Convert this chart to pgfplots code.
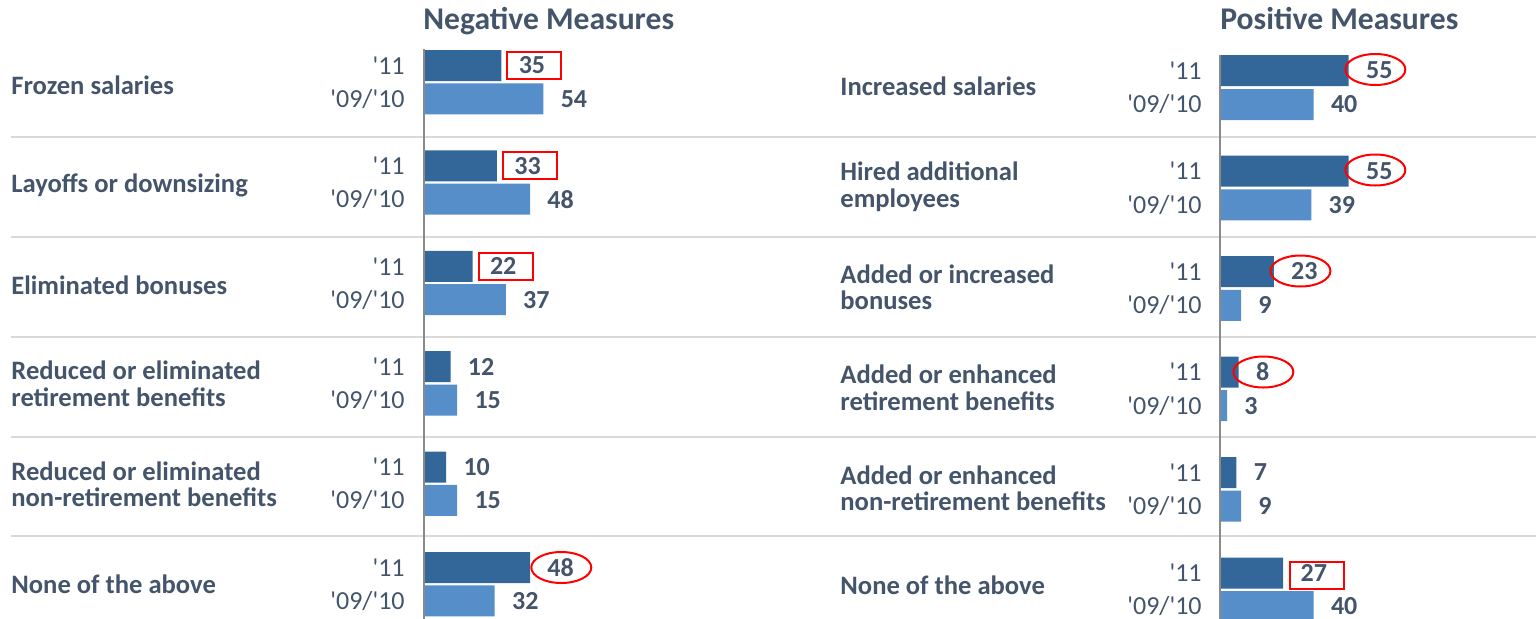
\documentclass[border=0pt]{standalone}
\usepackage{fontspec}
\setmainfont{Carlito}[Ligatures=TeXOff]
\usepackage{pgfplots}
\pgfplotsset{compat=1.18}
\usetikzlibrary{shapes.geometric}

\definecolor{dark}{HTML}{336699}
\definecolor{light}{HTML}{558EC9}
\definecolor{txt}{HTML}{44546A}
\definecolor{sep}{HTML}{D9D9D9}
\definecolor{ax}{HTML}{8A8A8A}

% 1 px of the reference = 0.5pt; y runs downward in pixels inside the axes
\pgfplotsset{
  panel/.style={
    scale only axis, height=309.5pt, anchor=north west,
    xmin=0, xmax=60, ymin=0, ymax=619, y dir=reverse,
    axis line style={draw=none}, xtick=\empty, major tick length=0pt,
    yticklabels={'11,'09/'10,'11,'09/'10,'11,'09/'10,'11,'09/'10,'11,'09/'10,'11,'09/'10},
    yticklabel style={anchor=east, inner sep=0pt, font=\fontsize{13}{15}\selectfont, text=txt},
    clip=false,
    xbar, bar width=15.5pt, bar shift=0pt,
    point meta=x, /pgf/number format/assume math mode=true,
    nodes near coords, nodes near coords align=horizontal,
    every node near coord/.append style={anchor=west, inner sep=0pt, xshift=8.5pt,
      font=\bfseries\fontsize{13}{15}\selectfont, text=txt},
  },
}
\tikzset{
  box/.style={draw=red, line width=1pt, minimum width=27pt, minimum height=13.5pt, inner sep=0pt},
  oval/.style={draw=red, ellipse, line width=1pt, minimum width=30pt, minimum height=15.5pt, inner sep=0pt},
}

\begin{document}
\begin{tikzpicture}
\useasboundingbox (0,0) rectangle (768pt,-309.5pt);

% row separators
\foreach \y in {68.6,118.5,168.4,218.35,268.25}
  \draw[sep, line width=1pt] (5.5pt,-\y pt) -- (768pt,-\y pt);

% titles
\node[anchor=base west, inner sep=0pt, text=txt, font=\bfseries\fontsize{15.8}{18}\selectfont] at (211.5pt,-14.8pt) {Negative Measures};
\node[anchor=base west, inner sep=0pt, text=txt, font=\bfseries\fontsize{15.8}{18}\selectfont] at (610pt,-14.8pt) {Positive Measures};

% category labels
\begin{scope}[every node/.style={anchor=west, align=left, inner sep=0pt, text=txt,
    font=\bfseries\fontsize{13.3}{13.3}\selectfont}]
\node at (5.5pt,-42.6pt) {Frozen salaries};
\node at (5.5pt,-92.8pt) {Layoffs or downsizing};
\node at (5.5pt,-142.6pt) {Eliminated bonuses};
\node at (5.5pt,-191.9pt) {Reduced or eliminated\\retirement benefits};
\node at (5.5pt,-242.1pt) {Reduced or eliminated\\non-retirement benefits};
\node at (5.5pt,-292.1pt) {None of the above};
\node at (420pt,-43.3pt) {Increased salaries};
\node at (420pt,-93.5pt) {Hired additional\\employees};
\node at (420pt,-143.7pt) {Added or increased\\bonuses};
\node at (420pt,-193.9pt) {Added or enhanced\\retirement benefits};
\node at (420pt,-244.1pt) {Added or enhanced\\non-retirement benefits};
\node at (420pt,-292.5pt) {None of the above};
\end{scope}

% Negative measures
\begin{axis}[panel, at={(212pt,0pt)}, width=66.3pt,
  ytick={65.5,98.8,165.9,199.2,266.3,299.6,366.7,400.0,467.1,500.4,567.5,600.8},
  yticklabel style={xshift=-9.5pt}]
\addplot[fill=dark, draw=none] coordinates {(35,65.5) (33,165.9) (22,266.3) (12,366.7) (10,467.1) (48,567.5)};
\addplot[fill=light, draw=none] coordinates {(54,98.8) (48,199.2) (37,299.6) (15,400.0) (15,500.4) (32,600.8)};
\draw[ax, line width=1pt] (axis cs:0,49) -- (axis cs:0,619);
\node[box] at ([xshift=16.3pt]axis cs:35,65.5) {};
\node[box] at ([xshift=16.3pt]axis cs:33,165.9) {};
\node[box] at ([xshift=16.8pt]axis cs:22,266.3) {};
\node[oval] at ([xshift=15.6pt]axis cs:48,567.5) {};
\end{axis}

% Positive measures
\begin{axis}[panel, at={(610pt,0pt)}, width=70.2pt,
  ytick={70.5,104.5,171.0,204.9,271.5,305.3,372.0,405.7,472.5,506.1,573.0,606.5},
  yticklabel style={xshift=-9pt}]
\addplot[fill=dark, draw=none] coordinates {(55,70.5) (55,171.0) (23,271.5) (8,372.0) (7,472.5) (27,573.0)};
\addplot[fill=light, draw=none] coordinates {(40,104.5) (39,204.9) (9,305.3) (3,405.7) (9,506.1) (40,606.5)};
\draw[ax, line width=1pt] (axis cs:0,55) -- (axis cs:0,619);
\node[oval] at ([xshift=13.3pt]axis cs:55,69.5) {};
\node[oval] at ([xshift=13.3pt]axis cs:55,170.0) {};
\node[oval] at ([xshift=13.3pt]axis cs:23,271.0) {};
\node[oval] at ([xshift=12.3pt]axis cs:8,372.0) {};
\node[box] at ([xshift=16.7pt]axis cs:27,575.0) {};
\end{axis}
\end{tikzpicture}
\end{document}
